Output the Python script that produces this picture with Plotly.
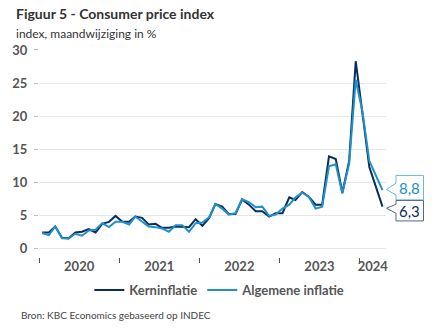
import plotly.graph_objects as go
import pandas as pd

# ---------------- data ----------------
months = pd.date_range("2020-01-01", periods=52, freq="MS") + pd.Timedelta(days=14)
kerninflatie = [
    2.4, 2.4, 3.3, 1.6, 1.5, 2.4, 2.5, 2.9, 2.4, 3.7, 4.0, 4.9,
    4.0, 4.0, 4.8, 4.6, 3.6, 3.7, 3.1, 3.1, 3.3, 3.2, 3.2, 4.4,
    3.4, 4.6, 6.7, 6.3, 5.2, 5.2, 7.4, 6.6, 5.6, 5.6, 4.8, 5.3,
    5.3, 7.7, 7.3, 8.5, 7.8, 6.6, 6.6, 13.9, 13.5, 8.4, 13.2, 28.3,
    20.2, 12.3, 9.4, 6.3,
]
algemene_inflatie = [
    2.3, 2.0, 3.3, 1.5, 1.5, 2.2, 1.9, 2.7, 2.8, 3.8, 3.2, 4.0,
    4.0, 3.6, 4.8, 4.1, 3.3, 3.2, 3.0, 2.5, 3.5, 3.5, 2.5, 3.8,
    3.9, 4.7, 6.7, 6.0, 5.1, 5.3, 7.4, 7.0, 6.2, 6.3, 4.9, 5.1,
    6.0, 6.6, 7.7, 8.4, 7.8, 6.0, 6.3, 12.4, 12.7, 8.3, 12.8, 25.5,
    20.6, 13.2, 11.0, 8.8,
]
years = [2020, 2021, 2022, 2023, 2024]
y_ticks = [0, 5, 10, 15, 20, 25, 30]

DARK = "#0b2c5e"
LIGHT = "#2090c8"
GREY = "#555555"
FONT = "Lato"

x_range = [pd.Timestamp("2020-01-01"), pd.Timestamp("2024-05-01")]
y_range = [-1.32, 30.15]

# year labels centred in the visible part of each year
label_pos = []
for yr in years:
    a = max(pd.Timestamp(f"{yr}-01-01"), x_range[0])
    b = min(pd.Timestamp(f"{yr + 1}-01-01"), x_range[1])
    label_pos.append(a + (b - a) / 2)

fig = go.Figure()
fig.add_trace(go.Scatter(x=months, y=kerninflatie, mode="lines", name="Kerninflatie",
                         line=dict(color=DARK, width=2)))
fig.add_trace(go.Scatter(x=months, y=algemene_inflatie, mode="lines", name="Algemene inflatie",
                         line=dict(color=LIGHT, width=2)))

# callouts for last values
def xpaper(t):
    return (t - x_range[0]) / (x_range[1] - x_range[0])

def ypaper(v):
    return (v - y_range[0]) / (y_range[1] - y_range[0])

last_x = xpaper(months[-1])
callouts = [
    (algemene_inflatie[-1], LIGHT, "#6cb6df",
     "M 13.5,14.7 L 41,14.7 L 41,-9.8 L 13.5,-9.8 L 13.5,-4.8 L 4,0.5 L 13.5,6.9 Z", 2.4),
    (kerninflatie[-1], DARK, "#52678a",
     "M 13.5,6.2 L 41,6.2 L 41,-14.3 L 13.5,-14.3 L 13.5,-6.6 L 4,-1.6 L 13.5,2.4 Z", -4.0),
]
for val, tcol, bcol, path, ysh in callouts:
    fig.add_shape(type="path", xref="paper", yref="paper", xsizemode="pixel", ysizemode="pixel",
                  xanchor=last_x, yanchor=ypaper(val), path=path,
                  fillcolor="white", line=dict(color=bcol, width=1), layer="above")
    fig.add_annotation(xref="paper", yref="paper", x=last_x, y=ypaper(val),
                       xshift=27, yshift=ysh, showarrow=False,
                       text=f"{val:.1f}".replace(".", ","),
                       font=dict(family=FONT, size=15, color=tcol),
                       xanchor="center", yanchor="middle")

# titles and source
fig.add_annotation(xref="paper", yref="paper", x=-0.0732, y=(257 - 14) / 208,
                   text="<b>Figuur 5 - Consumer price index</b>", showarrow=False,
                   xanchor="left", yanchor="middle",
                   font=dict(family=FONT, size=14, color="#333333"))
fig.add_annotation(xref="paper", yref="paper", x=-0.0732, y=(257 - 33) / 208,
                   text="index, maandwijziging in %", showarrow=False,
                   xanchor="left", yanchor="middle",
                   font=dict(family=FONT, size=12, color="#333333"))
fig.add_annotation(xref="paper", yref="paper", x=-0.0563, y=(257 - 315) / 208,
                   text="Bron: KBC Economics gebaseerd op INDEC", showarrow=False,
                   xanchor="left", yanchor="middle",
                   font=dict(family=FONT, size=10, color="#444444"))

fig.update_layout(
    width=432, height=334,
    margin=dict(l=31, r=46, t=49, b=77),
    paper_bgcolor="white", plot_bgcolor="white",
    font=dict(family=FONT, color=GREY),
    showlegend=True,
    legend=dict(orientation="h", x=(216 - 31) / 355, y=(257 - 290) / 208,
                xanchor="center", yanchor="middle",
                font=dict(family=FONT, size=13, color=GREY, weight="bold"),
                itemwidth=30, tracegroupgap=0, bgcolor="rgba(0,0,0,0)"),
    xaxis=dict(type="date", range=x_range, tickvals=label_pos,
               ticktext=[str(y) for y in years], ticks="",
               minor=dict(tick0="2020-01-01", dtick="M12", ticks="outside", ticklen=5,
                          tickcolor=GREY, tickwidth=1, showgrid=False),
               showgrid=False, zeroline=False, showline=False,
               tickfont=dict(family=FONT, size=13, color=GREY, weight="bold")),
    yaxis=dict(range=y_range, tickvals=y_ticks, ticks="outside", ticklen=4,
               tickcolor="#bbbbbb", showgrid=True, gridcolor="#e6e6e6", gridwidth=1,
               zeroline=False, showline=False, ticklabelstandoff=4,
               tickfont=dict(family=FONT, size=13, color=GREY, weight="bold")),
)

fig.write_html("out.html")
